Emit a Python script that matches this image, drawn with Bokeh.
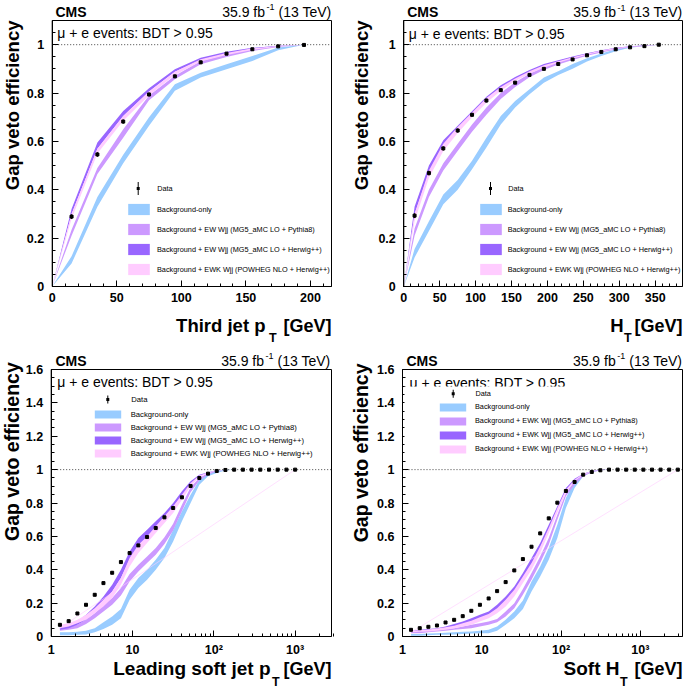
from math import pi, log10
from bokeh.plotting import figure
from bokeh.layouts import column, row
from bokeh.models import (Range1d, FixedTicker, NumeralTickFormatter, Label, LinearAxis, LogAxis,
                          Legend, LegendItem, BoxAnnotation)
from bokeh.embed import file_html
from bokeh.resources import INLINE

# ---------------- data: third jet pT ----------------
j3_band_x = [0, 15, 35, 55, 75, 95, 115, 135, 155, 175, 195]
j3_bkg_lo = [0, 0.095, 0.33, 0.51, 0.665, 0.81, 0.864, 0.898, 0.933, 0.977, 1.0]
j3_bkg_hi = [0, 0.125, 0.37, 0.545, 0.70, 0.836, 0.884, 0.919, 0.953, 0.988, 1.0]
j3_py8_lo = [0, 0.21, 0.465, 0.615, 0.77, 0.857, 0.919, 0.949, 0.974, 0.990, 1.0]
j3_py8_hi = [0, 0.235, 0.49, 0.65, 0.79, 0.872, 0.933, 0.960, 0.983, 0.994, 1.0]
j3_hw_lo = [0, 0.30, 0.57, 0.705, 0.806, 0.888, 0.937, 0.963, 0.981, 0.993, 1.0]
j3_hw_hi = [0, 0.32, 0.595, 0.726, 0.82, 0.898, 0.946, 0.971, 0.987, 0.996, 1.0]
j3_pw_lo = [0, 0.28, 0.55, 0.685, 0.79, 0.875, 0.930, 0.957, 0.978, 0.992, 1.0]
j3_pw_hi = [0, 0.30, 0.57, 0.705, 0.806, 0.888, 0.940, 0.966, 0.985, 0.995, 1.0]
j3_data_x = [15, 35, 55, 75, 95, 115, 135, 155, 175, 195]
j3_data_y = [0.289, 0.546, 0.682, 0.794, 0.869, 0.927, 0.963, 0.981, 0.993, 0.999]
j3_data_err = [0.010, 0.010, 0.009, 0.008, 0.007, 0.006, 0.005, 0.004, 0.003, 0.002]

# ---------------- data: HT ----------------
ht_band_x = [0, 15, 35, 55, 75, 95, 115, 135, 155, 175, 195, 215, 235, 255, 275, 295, 315, 335, 355]
ht_bkg_lo = [0, 0.12, 0.23, 0.34, 0.40, 0.485, 0.575, 0.67, 0.74, 0.795, 0.843, 0.875, 0.900, 0.930, 0.953, 0.973, 0.987, 0.995, 1.0]
ht_bkg_hi = [0, 0.155, 0.27, 0.38, 0.44, 0.52, 0.615, 0.705, 0.767, 0.816, 0.864, 0.890, 0.920, 0.944, 0.964, 0.981, 0.992, 0.997, 1.0]
ht_py8_lo = [0, 0.21, 0.37, 0.48, 0.56, 0.64, 0.71, 0.775, 0.825, 0.865, 0.895, 0.918, 0.937, 0.954, 0.968, 0.980, 0.989, 0.995, 1.0]
ht_py8_hi = [0, 0.24, 0.40, 0.51, 0.59, 0.67, 0.74, 0.80, 0.845, 0.88, 0.908, 0.928, 0.945, 0.960, 0.973, 0.984, 0.992, 0.997, 1.0]
ht_hw_lo = [0, 0.30, 0.47, 0.58, 0.645, 0.705, 0.77, 0.82, 0.855, 0.885, 0.91, 0.928, 0.945, 0.960, 0.973, 0.983, 0.991, 0.996, 1.0]
ht_hw_hi = [0, 0.33, 0.50, 0.605, 0.665, 0.725, 0.785, 0.832, 0.866, 0.895, 0.92, 0.936, 0.951, 0.965, 0.977, 0.987, 0.993, 0.997, 1.0]
ht_pw_lo = [0, 0.27, 0.45, 0.56, 0.635, 0.70, 0.76, 0.81, 0.85, 0.88, 0.905, 0.925, 0.943, 0.958, 0.972, 0.982, 0.990, 0.995, 1.0]
ht_pw_hi = [0, 0.30, 0.48, 0.59, 0.66, 0.72, 0.78, 0.825, 0.86, 0.89, 0.915, 0.932, 0.948, 0.963, 0.976, 0.986, 0.992, 0.997, 1.0]
ht_data_x = [15, 35, 55, 75, 95, 115, 135, 155, 175, 195, 215, 235, 255, 275, 295, 315, 335, 355]
ht_data_y = [0.293, 0.469, 0.571, 0.645, 0.710, 0.769, 0.812, 0.843, 0.875, 0.900, 0.920, 0.939, 0.956, 0.970, 0.981, 0.989, 0.994, 1.0]
ht_data_err = [0.010, 0.010, 0.009, 0.009, 0.008, 0.008, 0.007, 0.006, 0.006, 0.005, 0.004, 0.004, 0.003, 0.003, 0.002, 0.002, 0.001, 0.001]

# ---------------- data: leading soft jet pT ----------------
sj_x = [1.28, 1.64, 2.10, 2.68, 3.43, 4.39, 5.62, 7.20, 9.21, 11.8, 15.1, 19.3, 24.7, 31.6,
        40.5, 51.8, 66.3, 84.8, 108.6, 138.9, 177.8, 227.6, 291.3, 372.8, 477.1, 610.5, 781.4, 1000.0]
sj_bkg_lo = [0.008, 0.008, 0.01, 0.012, 0.025, 0.045, 0.07, 0.11, 0.22, 0.29, 0.34, 0.40, 0.47, 0.57,
             0.69, 0.80, 0.91, 0.96, 0.98, 0.995, 1, 1, 1, 1, 1, 1, 1, 1]
sj_bkg_hi = [0.025, 0.025, 0.028, 0.035, 0.05, 0.085, 0.12, 0.165, 0.28, 0.35, 0.40, 0.46, 0.53, 0.64,
             0.75, 0.85, 0.94, 0.98, 0.99, 1.0, 1, 1, 1, 1, 1, 1, 1, 1]
sj_py8_lo = [0.035, 0.04, 0.05, 0.075, 0.11, 0.15, 0.19, 0.245, 0.33, 0.39, 0.44, 0.49, 0.555, 0.635,
             0.75, 0.865, 0.935, 0.97, 0.99, 1.0, 1, 1, 1, 1, 1, 1, 1, 1]
sj_py8_hi = [0.055, 0.06, 0.07, 0.10, 0.14, 0.19, 0.23, 0.29, 0.375, 0.43, 0.48, 0.53, 0.595, 0.675,
             0.79, 0.895, 0.95, 0.98, 0.993, 1.0, 1, 1, 1, 1, 1, 1, 1, 1]
sj_hw_lo = [0.04, 0.05, 0.07, 0.10, 0.15, 0.20, 0.27, 0.35, 0.46, 0.54, 0.60, 0.65, 0.70, 0.76,
            0.84, 0.91, 0.96, 0.98, 0.995, 1.0, 1, 1, 1, 1, 1, 1, 1, 1]
sj_hw_hi = [0.06, 0.07, 0.09, 0.13, 0.18, 0.24, 0.31, 0.40, 0.51, 0.59, 0.64, 0.69, 0.74, 0.80,
            0.87, 0.93, 0.97, 0.985, 0.997, 1.0, 1, 1, 1, 1, 1, 1, 1, 1]
sj_pw_lo = [0.05, 0.06, 0.08, 0.10, 0.14, 0.18, 0.23, 0.31, 0.42, 0.50, 0.56, 0.62, 0.68, 0.74,
            0.82, 0.90, 0.955, 0.978, 0.993, 1.0, 1, 1, 1, 1, 1, 1, 1, 1]
sj_pw_hi = [0.07, 0.08, 0.10, 0.13, 0.17, 0.22, 0.27, 0.35, 0.47, 0.55, 0.60, 0.66, 0.72, 0.78,
            0.85, 0.92, 0.965, 0.983, 0.995, 1.0, 1, 1, 1, 1, 1, 1, 1, 1]
sj_data_y = [0.07, 0.092, 0.138, 0.19, 0.25, 0.32, 0.382, 0.446, 0.50, 0.546, 0.596, 0.65, 0.714, 0.77,
             0.834, 0.902, 0.95, 0.976, 0.992, 0.998, 1, 1, 1, 1, 1, 1, 1, 1]
sj_data_err = [0.008] * 20 + [0.002] * 8

# ---------------- data: soft HT ----------------
sh_x = [1.28, 1.65, 2.12, 2.72, 3.49, 4.48, 5.75, 7.38, 9.47, 12.2, 15.6, 20.0, 25.7, 33.0, 42.4, 54.5,
        69.9, 89.7, 115, 148, 190, 244, 313, 402, 516, 662, 850, 1091, 1401, 1799, 2310, 2965]
sh_bkg_lo = [0.005, 0.005, 0.008, 0.01, 0.01, 0.012, 0.015, 0.018, 0.02, 0.02, 0.035, 0.07, 0.11, 0.165, 0.27, 0.36,
             0.46, 0.59, 0.77, 0.89, 0.96, 0.985, 0.997, 1, 1, 1, 1, 1, 1, 1, 1, 1]
sh_bkg_hi = [0.015, 0.015, 0.018, 0.02, 0.022, 0.025, 0.028, 0.03, 0.035, 0.04, 0.06, 0.10, 0.15, 0.215, 0.33, 0.42,
             0.53, 0.67, 0.83, 0.935, 0.975, 0.99, 0.999, 1, 1, 1, 1, 1, 1, 1, 1, 1]
sh_py8_lo = [0.02, 0.02, 0.025, 0.03, 0.035, 0.04, 0.045, 0.05, 0.06, 0.07, 0.085, 0.12, 0.17, 0.25, 0.34, 0.44,
             0.55, 0.70, 0.84, 0.91, 0.96, 0.985, 0.997, 1, 1, 1, 1, 1, 1, 1, 1, 1]
sh_py8_hi = [0.03, 0.03, 0.035, 0.04, 0.045, 0.05, 0.06, 0.07, 0.08, 0.09, 0.105, 0.15, 0.20, 0.285, 0.38, 0.48,
             0.59, 0.73, 0.86, 0.93, 0.97, 0.99, 0.998, 1, 1, 1, 1, 1, 1, 1, 1, 1]
sh_hw_lo = [0.025, 0.03, 0.035, 0.04, 0.05, 0.06, 0.07, 0.09, 0.11, 0.13, 0.16, 0.21, 0.27, 0.35, 0.43, 0.53,
            0.64, 0.76, 0.87, 0.93, 0.97, 0.99, 0.998, 1, 1, 1, 1, 1, 1, 1, 1, 1]
sh_hw_hi = [0.035, 0.04, 0.045, 0.05, 0.06, 0.075, 0.09, 0.11, 0.13, 0.15, 0.19, 0.24, 0.30, 0.38, 0.47, 0.56,
            0.67, 0.78, 0.89, 0.945, 0.975, 0.992, 0.999, 1, 1, 1, 1, 1, 1, 1, 1, 1]
sh_pw_lo = [0.025, 0.028, 0.03, 0.035, 0.04, 0.05, 0.06, 0.07, 0.09, 0.11, 0.14, 0.18, 0.24, 0.32, 0.40, 0.50,
            0.62, 0.74, 0.86, 0.93, 0.968, 0.988, 0.998, 1, 1, 1, 1, 1, 1, 1, 1, 1]
sh_pw_hi = [0.035, 0.038, 0.042, 0.048, 0.055, 0.065, 0.08, 0.095, 0.115, 0.135, 0.17, 0.22, 0.28, 0.36, 0.44, 0.54,
            0.65, 0.77, 0.88, 0.94, 0.975, 0.99, 0.999, 1, 1, 1, 1, 1, 1, 1, 1, 1]
sh_data_y = [0.04, 0.05, 0.058, 0.066, 0.084, 0.10, 0.122, 0.154, 0.19, 0.228, 0.272, 0.326, 0.396, 0.464, 0.538, 0.618,
             0.708, 0.802, 0.872, 0.926, 0.97, 0.986, 0.996, 1, 1, 1, 1, 1, 1, 1, 1, 1]
sh_data_err = [0.007] * 23 + [0.002] * 9

# ---------------- labels / ticks ----------------
legend_labels_ew = ["Background-only",
                    "Background + EW Wjj (MG5_aMC LO + Pythia8)",
                    "Background + EW Wjj (MG5_aMC LO + Herwig++)",
                    "Background + EWK Wjj (POWHEG NLO + Herwig++)"]
legend_labels_ewk = ["Background-only",
                     "Background + EWK Wjj (MG5_aMC LO + Pythia8)",
                     "Background + EWK Wjj (MG5_aMC LO + Herwig++)",
                     "Background + EWK Wjj (POWHEG NLO + Herwig++)"]
y_ticks_top = [0, 0.2, 0.4, 0.6, 0.8, 1.0]
y_ticks_bottom = [0, 0.2, 0.4, 0.6, 0.8, 1.0, 1.2, 1.4, 1.6]
j3_x_ticks = [0, 50, 100, 150, 200]
ht_x_ticks = [0, 50, 100, 150, 200, 250, 300, 350]
log_x_ticks = [1, 10, 100, 1000]
log_x_labels = {1: "1", 10: "10", 100: "10\u00b2", 1000: "10\u00b3"}

FONT = "Liberation Sans"
C_BKG = "#99ccff"
C_PY8 = "#cc99ff"
C_HW = "#9966ff"
C_PW = "#ffccff"


class Panel:
    """A figure whose frame fills the whole canvas; the visible plot box is drawn inside it."""

    def __init__(self, ox, oy, W, H, box, xlim, ylim, log):
        L, R, T, B = box
        self.ox, self.oy, self.W, self.H = ox, oy, W, H
        if log:
            l0, l1 = log10(xlim[0]), log10(xlim[1])
            per = (l1 - l0) / (R - L)
            xr = Range1d(10 ** (l0 - L * per), 10 ** (l1 + (W - R) * per))
        else:
            per = (xlim[1] - xlim[0]) / (R - L)
            xr = Range1d(xlim[0] - L * per, xlim[1] + (W - R) * per)
        pery = (ylim[1] - ylim[0]) / (B - T)
        yr = Range1d(ylim[0] - (H - B) * pery, ylim[1] + T * pery)
        p = figure(x_range=xr, y_range=yr, x_axis_type="log" if log else "linear",
                   x_axis_location=None, y_axis_location=None,
                   frame_width=W, frame_height=H, min_border=0,
                   output_backend="svg", toolbar_location=None)
        p.min_border_left = p.min_border_right = p.min_border_top = p.min_border_bottom = 0
        p.xgrid.visible = False
        p.ygrid.visible = False
        p.outline_line_alpha = 0.0
        p.background_fill_color = "white"
        p.border_fill_color = "white"
        self.p = p
        self.xlim, self.ylim, self.log = xlim, ylim, log

    def axes(self, xticks, xminor, yticks, yminor, xlabels=None):
        p = self.p
        xa = (LogAxis if self.log else LinearAxis)(fixed_location=self.ylim[0], bounds=self.xlim)
        ya = LinearAxis(fixed_location=self.xlim[0], bounds=self.ylim)
        xa.ticker = FixedTicker(ticks=xticks, minor_ticks=xminor)
        ya.ticker = FixedTicker(ticks=yticks, minor_ticks=yminor)
        ya.formatter = NumeralTickFormatter(format="0.[0]")
        if xlabels:
            xa.major_label_overrides = xlabels
        for ax in (xa, ya):
            ax.major_tick_in = 6
            ax.major_tick_out = 0
            ax.minor_tick_in = 3
            ax.minor_tick_out = 0
            ax.axis_line_color = "black"
            ax.major_tick_line_color = "black"
            ax.minor_tick_line_color = "black"
            ax.major_label_text_font = FONT
            ax.major_label_text_font_style = "bold"
            ax.major_label_text_font_size = "12.5px"
            ax.major_label_text_color = "black"
        ya.major_label_standoff = 8
        xa.major_label_standoff = 6
        p.add_layout(xa, "below")
        p.add_layout(ya, "left")
        p.add_layout(BoxAnnotation(left=self.xlim[0], right=self.xlim[1],
                                   bottom=self.ylim[0], top=self.ylim[1],
                                   fill_alpha=0.0, line_color="black", line_width=1, line_alpha=1.0))

    # page coordinates (px from the top-left of the whole picture) -> frame screen units
    def sx(self, X):
        return X - self.ox

    def sy(self, Y):
        return self.oy + self.H - Y

    def lab(self, X, Y, text, size, bold=False, align="left", angle=0.0):
        self.p.add_layout(Label(x=self.sx(X), y=self.sy(Y), x_units="screen", y_units="screen",
                                text=text, text_font=FONT, text_font_size=f"{size}px",
                                text_font_style="bold" if bold else "normal",
                                text_align=align, text_baseline="middle", angle=angle,
                                text_color="black"))

    def sbox(self, X0, X1, Y0, Y1, color):
        self.p.add_layout(BoxAnnotation(left=self.sx(X0), right=self.sx(X1),
                                        top=self.sy(Y0), bottom=self.sy(Y1),
                                        left_units="screen", right_units="screen",
                                        top_units="screen", bottom_units="screen",
                                        fill_color=color, fill_alpha=1.0, line_alpha=0.0))

    def header(self, cms_X, Y, lumi_R, ev_X, ev_Y):
        self.lab(cms_X, Y, "CMS", 14, bold=True)
        self.lab(lumi_R, Y, "(13 TeV)", 14, align="right")
        self.lab(lumi_R - 57, Y - 4.5, "-1", 9, align="right")
        self.lab(lumi_R - 66.5, Y, "35.9 fb", 14, align="right")
        self.lab(ev_X, ev_Y, "\u03bc + e events: BDT > 0.95", 14)

    def ytitle(self, X, topY, size):
        self.lab(X, topY, "Gap veto efficiency", size, bold=True, align="right", angle=pi / 2)

    def xtitle(self, main, main_R, sub_L, Y, sub_Y, size, sub_size, R):
        self.lab(main_R, Y, main, size, bold=True, align="right")
        self.lab(sub_L, sub_Y, "T", sub_size, bold=True)
        self.lab(R, Y, "[GeV]", 18, bold=True, align="right")

    def bands(self, x, sets):
        return [self.p.varea(x=x, y1=lo, y2=hi, fill_color=c, fill_alpha=1.0) for lo, hi, c in sets]

    def unity(self):
        self.p.segment(x0=[self.xlim[0]], y0=[1.0], x1=[self.xlim[1]], y1=[1.0],
                       line_color="#444444", line_dash="1 2", line_width=1)

    def data(self, x, y, err):
        lo = [a - e for a, e in zip(y, err)]
        hi = [a + e for a, e in zip(y, err)]
        self.p.segment(x0=x, y0=lo, x1=x, y1=hi, line_color="black", line_width=1)
        self.p.scatter(x=x, y=y, marker="square", size=3, fill_color="black", line_color="black")

    def legends(self, band_rs, labels, d_center, d_len, d_text_X,
                b_left, b_top, gw, gh, spacing, b_text_X, fsize):
        # "Data" entry: vertical error bar with a small point, and its text
        cx, cy = d_center
        self.sbox(cx - 0.5, cx + 0.5, cy - d_len / 2, cy + d_len / 2, "black")
        self.sbox(cx - 1.5, cx + 1.5, cy - 1.5, cy + 1.5, "black")
        self.lab(d_text_X, cy, "Data", fsize)
        n = len(labels)
        height = n * gh + (n - 1) * spacing
        leg_b = Legend(items=[LegendItem(label=l, renderers=[r]) for l, r in zip(labels, band_rs)],
                       location=(self.sx(b_left), self.sy(b_top + height)),
                       glyph_width=gw, glyph_height=gh, label_height=gh,
                       padding=0, margin=0, spacing=spacing,
                       label_standoff=int(round(b_text_X - (b_left + gw))),
                       label_text_font=FONT, label_text_font_size=f"{fsize}px",
                       label_text_color="black", background_fill_alpha=0.0, border_line_alpha=0.0)
        self.p.add_layout(leg_b)


lin_minor_j3 = list(range(0, 220, 10))
lin_minor_ht = list(range(0, 390, 10))
y_minor_top = [i * 0.05 for i in range(0, 23)]
y_minor_bottom = [i * 0.05 for i in range(0, 33)]
log_minor = [m * d for d in (1, 10, 100, 1000) for m in range(2, 10)]

# ---------------- panel 1: third jet pT ----------------
P1 = Panel(0, 0, 340, 345, (51.7, 331, 20, 286), (0, 216.3), (0, 1.1), False)
P1.axes(j3_x_ticks, lin_minor_j3, y_ticks_top, y_minor_top)
r1 = P1.bands(j3_band_x, [(j3_bkg_lo, j3_bkg_hi, C_BKG), (j3_py8_lo, j3_py8_hi, C_PY8),
                          (j3_hw_lo, j3_hw_hi, C_HW), (j3_pw_lo, j3_pw_hi, C_PW)])
P1.unity()
P1.data(j3_data_x, j3_data_y, j3_data_err)
P1.header(55, 11, 331, 56.7, 32.5)
P1.ytitle(11.7, 20, 18.5)
P1.xtitle("Third jet p", 265, 268.5, 325, 337.5, 18.5, 12.5, 331)
P1.legends(r1, legend_labels_ew, (137.7, 188), 13, 156.7, 125, 202, 27, 14, 6, 157, 7.3)

# ---------------- panel 2: HT ----------------
P2 = Panel(340, 0, 345, 345, (63.3, 342, 20, 286), (0, 388), (0, 1.1), False)
P2.axes(ht_x_ticks, lin_minor_ht, y_ticks_top, y_minor_top)
r2 = P2.bands(ht_band_x, [(ht_bkg_lo, ht_bkg_hi, C_BKG), (ht_py8_lo, ht_py8_hi, C_PY8),
                          (ht_hw_lo, ht_hw_hi, C_HW), (ht_pw_lo, ht_pw_hi, C_PW)])
P2.unity()
P2.data(ht_data_x, ht_data_y, ht_data_err)
P2.header(406.7, 11.5, 682, 408.3, 33.3)
P2.ytitle(360.7, 20, 18.5)
P2.xtitle("H", 623, 623.5, 325, 337.5, 18.5, 12.5, 682)
P2.legends(r2, legend_labels_ew, (490, 188), 13, 507.7, 476.7, 202, 27, 14, 6, 507.7, 7.3)

# ---------------- panel 3: leading soft jet pT ----------------
P3 = Panel(0, 345, 340, 346, (50.7, 331, 24, 291), (1, 2800), (0, 1.6), True)
P3.axes(log_x_ticks, log_minor, y_ticks_bottom, y_minor_bottom, log_x_labels)
r3 = P3.bands(sj_x, [(sj_bkg_lo, sj_bkg_hi, C_BKG), (sj_py8_lo, sj_py8_hi, C_PY8),
                     (sj_hw_lo, sj_hw_hi, C_HW), (sj_pw_lo, sj_pw_hi, C_PW)])
P3.p.line(x=[sj_x[0], sj_x[-1]], y=[sj_pw_lo[0], sj_pw_hi[-1]], line_color=C_PW, line_alpha=0.6, line_width=1)
P3.unity()
P3.data(sj_x, sj_data_y, sj_data_err)
P3.header(55, 360, 330, 56.7, 381.7)
P3.ytitle(11.7, 361.7, 19.5)
P3.xtitle("Leading soft jet p", 270, 271.5, 668, 681.5, 19, 12.5, 331)
P3.legends(r3, legend_labels_ew, (107.3, 399), 8, 130.7, 90.7, 409, 33, 10, 3, 130.7, 7.7)

# ---------------- panel 4: soft HT ----------------
P4 = Panel(340, 345, 345, 346, (62, 342, 24, 291), (1, 3400), (0, 1.6), True)
P4.axes(log_x_ticks, log_minor, y_ticks_bottom, y_minor_bottom, log_x_labels)
r4 = P4.bands(sh_x, [(sh_bkg_lo, sh_bkg_hi, C_BKG), (sh_py8_lo, sh_py8_hi, C_PY8),
                     (sh_hw_lo, sh_hw_hi, C_HW), (sh_pw_lo, sh_pw_hi, C_PW)])
P4.p.line(x=[sh_x[0], sh_x[-1]], y=[sh_pw_lo[0], sh_pw_hi[-1]], line_color=C_PW, line_alpha=0.6, line_width=1)
P4.unity()
P4.data(sh_x, sh_data_y, sh_data_err)
P4.header(406, 360, 681.7, 409, 382.3)
P4.ytitle(360.7, 363, 19.5)
P4.xtitle("Soft H", 619, 619.5, 668, 681.5, 19, 12.5, 682)
P4.sbox(404, 620, 386, 455, "white")
P4.legends(r4, legend_labels_ewk, (452.7, 393.3), 8, 475, 436, 401.7, 33, 10, 4, 475, 7.3)

layout = column(row(P1.p, P2.p), row(P3.p, P4.p))
open("out.html", "w").write(file_html(layout, INLINE))
